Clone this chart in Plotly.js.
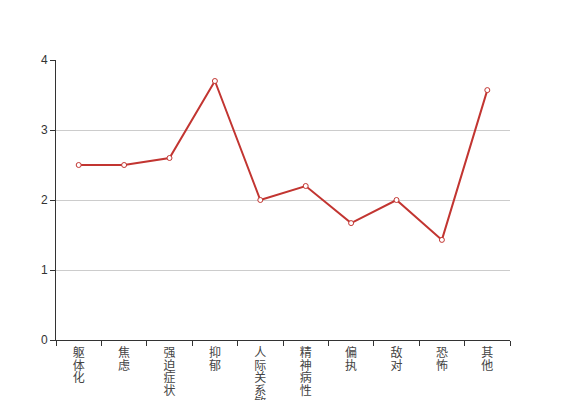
<!DOCTYPE html>
<html>
<head>
<meta charset="utf-8">
<script src="https://cdn.plot.ly/plotly-3.0.1.min.js"></script>
<style>html,body{margin:0;padding:0;background:#fff;}#chart{width:567px;height:400px;}</style>
</head>
<body>
<div id="chart"></div>
<script>
const categories = ["躯体化", "焦虑", "强迫症状", "抑郁", "人际关系敏感", "精神病性", "偏执", "敌对", "恐怖", "其他"];
const values = [2.5, 2.5, 2.6, 3.7, 2.0, 2.2, 1.67, 2.0, 1.43, 3.57];
const yTicks = [0, 1, 2, 3, 4];

const verticalLabels = categories.map(c => c.split("").join("<br>"));

const trace = {
  type: "scatter",
  mode: "lines+markers",
  x: categories,
  y: values,
  line: {color: "#c23531", width: 2},
  marker: {symbol: "circle", size: 5, color: "#ffffff", line: {color: "#c23531", width: 1}},
  hoverinfo: "x+y"
};

const layout = {
  width: 567,
  height: 400,
  margin: {l: 56, r: 57, t: 60, b: 60},
  paper_bgcolor: "#ffffff",
  plot_bgcolor: "#ffffff",
  showlegend: false,
  font: {family: "Noto Sans CJK SC, sans-serif", size: 12, color: "#333"},
  xaxis: {
    type: "category",
    tickmode: "array",
    tickvals: categories,
    ticktext: verticalLabels,
    tickson: "boundaries",
    ticks: "outside",
    ticklen: 5,
    tickcolor: "#333",
    showline: true,
    linecolor: "#333",
    linewidth: 1,
    showgrid: false,
    zeroline: false,
    tickangle: 0,
    ticklabelstandoff: 2,
    tickfont: {size: 12, color: "#444"},
    range: [-0.5, categories.length - 0.5]
  },
  yaxis: {
    range: [0, 4],
    tickmode: "array",
    tickvals: yTicks,
    ticktext: yTicks.map(String),
    ticks: "outside",
    ticklen: 5,
    tickcolor: "#333",
    showline: true,
    linecolor: "#333",
    linewidth: 1,
    showgrid: true,
    gridcolor: "#ccc",
    gridwidth: 1,
    zeroline: false,
    tickfont: {size: 12, color: "#333", family: "Liberation Sans, Arial, sans-serif"}
  }
};

Plotly.newPlot("chart", [trace], layout, {displayModeBar: false, staticPlot: true}).then(gd => {
  // tighten line spacing of vertical category labels (stacked characters)
  const factor = 1.04 / 1.3;
  gd.querySelectorAll(".xtick text tspan.line").forEach(t => {
    const dy = t.getAttribute("dy");
    if (dy && dy.endsWith("em")) {
      t.setAttribute("dy", (parseFloat(dy) * factor) + "em");
    }
  });
});
</script>
</body>
</html>
